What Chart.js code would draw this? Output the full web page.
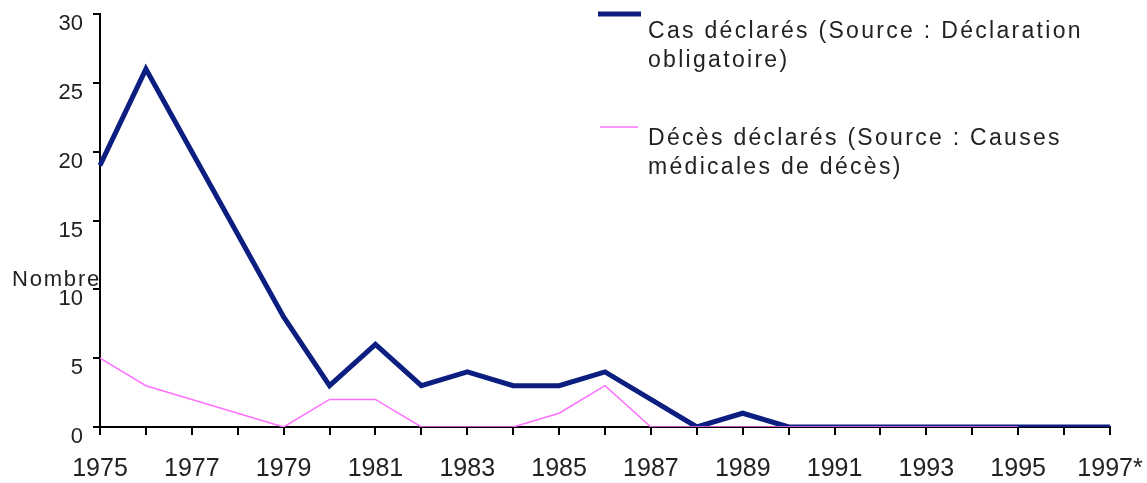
<!DOCTYPE html>
<html>
<head>
<meta charset="utf-8">
<script src="https://cdn.jsdelivr.net/npm/chart.js@4"></script>
<style>
  html, body { margin: 0; padding: 0; background: #fff; }
  #c { display: block; }
</style>
</head>
<body>
<canvas id="c" width="1147" height="483"></canvas>
<script>
// ---- data ----
const years = ['1975','1976','1977','1978','1979','1980','1981','1982','1983','1984','1985','1986','1987','1988','1989','1990','1991','1992','1993','1994','1995','1996','1997*'];
const casDeclares = [19,26,20,14,8,3,6,3,4,3,3,4,2,0,1,0,0,0,0,0,0,0,0];
const decesDeclares = [5,3,2,1,0,2,2,0,0,0,1,3,0,0,0,0,0,0,0,0,0,null,null];
const seriesNames = ['Cas déclarés (Source : Déclaration obligatoire)', 'Décès déclarés (Source : Causes médicales de décès)'];
const yTicks = [0,5,10,15,20,25,30];
const yAxisLabel = 'Nombre';

const BLUE = '#0c1f80';
const PINK = '#ff70ff';
const FONT = "'Liberation Sans', Arial, sans-serif";

const annotations = {
  id: 'annotations',
  afterDraw(chart) {
    const ctx = chart.ctx;
    ctx.save();
    ctx.fillStyle = '#222';
    ctx.font = '22px ' + FONT;
    try { ctx.letterSpacing = '1.8px'; } catch (e) {}
    ctx.textBaseline = 'alphabetic';
    ctx.textAlign = 'left';
    ctx.fillText(yAxisLabel, 12, 286);

    const items = [
      { color: BLUE, width: 5, lineY: 14, x0: 598, x1: 641, baseline: 38 },
      { color: PINK, width: 1.5, lineY: 127, x0: 600, x1: 638, baseline: 145 }
    ];
    ctx.font = '23px ' + FONT;
    try { ctx.letterSpacing = '2.3px'; } catch (e) {}
    items.forEach((it, i) => {
      ctx.strokeStyle = it.color;
      ctx.lineWidth = it.width;
      ctx.lineCap = 'butt';
      ctx.beginPath();
      ctx.moveTo(it.x0, it.lineY);
      ctx.lineTo(it.x1, it.lineY);
      ctx.stroke();
      const words = seriesNames[i].split(' ');
      const lines = [];
      let cur = '';
      words.forEach(w => {
        const t = cur ? cur + ' ' + w : w;
        if (ctx.measureText(t).width > 470 && cur) { lines.push(cur); cur = w; }
        else cur = t;
      });
      if (cur) lines.push(cur);
      ctx.fillStyle = '#222';
      lines.forEach((ln, k) => ctx.fillText(ln, 648, it.baseline + k * 29));
    });
    ctx.restore();
  }
};

new Chart(document.getElementById('c'), {
  type: 'line',
  data: {
    labels: years,
    datasets: [
      {
        label: seriesNames[0],
        data: casDeclares,
        borderColor: BLUE,
        backgroundColor: BLUE,
        borderWidth: 5,
        pointRadius: 0,
        tension: 0,
        order: 2
      },
      {
        label: seriesNames[1],
        data: decesDeclares,
        borderColor: PINK,
        backgroundColor: PINK,
        borderWidth: 1.5,
        pointRadius: 0,
        tension: 0,
        spanGaps: false,
        order: 1
      }
    ]
  },
  options: {
    responsive: false,
    animation: false,
    devicePixelRatio: 1,
    layout: { padding: { top: 14, right: 37, left: 0, bottom: 0 } },
    plugins: { legend: { display: false }, tooltip: { enabled: false } },
    scales: {
      x: {
        type: 'category',
        offset: false,
        grid: { display: true, drawOnChartArea: false, drawTicks: true, tickLength: 8, color: '#000', lineWidth: 2 },
        border: { display: true, color: '#000', width: 2 },
        ticks: {
          autoSkip: false, maxRotation: 0, minRotation: 0,
          color: '#222', padding: 19,
          font: { size: 25, family: FONT },
          callback: function (val, idx) { return idx % 2 === 0 ? this.getLabelForValue(val) : ''; }
        },
        afterFit(s) { s.height = 56; s.paddingLeft = 0; s.paddingRight = 0; }
      },
      y: {
        min: 0, max: 30,
        afterBuildTicks(s) { s.ticks = yTicks.map(v => ({ value: v })); },
        grid: { display: true, drawOnChartArea: false, drawTicks: true, tickLength: 7, color: '#000', lineWidth: 2 },
        border: { display: true, color: '#000', width: 2 },
        ticks: {
          color: '#222', padding: 10, labelOffset: 10,
          font: { size: 22, family: FONT }
        },
        afterFit(s) { s.width = 100; s.paddingTop = 0; s.paddingBottom = 0; }
      }
    }
  },
  plugins: [annotations]
});
</script>
</body>
</html>
